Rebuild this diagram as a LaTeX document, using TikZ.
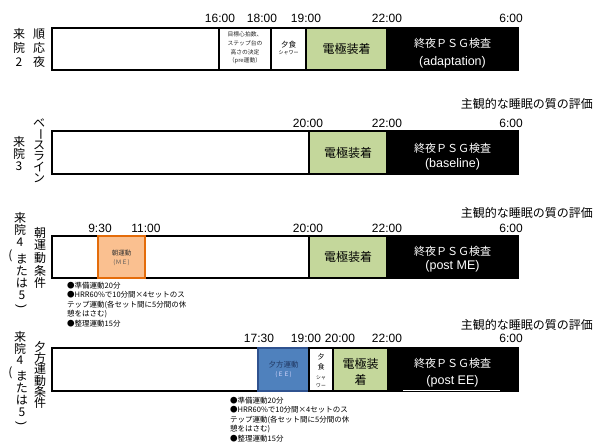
\documentclass[tikz,border=0pt]{standalone}
\usepackage{fontspec}
\setmainfont{Liberation Sans}
\newfontfamily\jp{Noto Sans CJK JP}
\definecolor{elec}{HTML}{C4D79B}
\definecolor{orfill}{HTML}{FAC090}
\definecolor{ordraw}{HTML}{E46C0A}
\definecolor{blfill}{HTML}{4F81BD}
\definecolor{bldraw}{HTML}{2F528F}
\begin{document}
\begin{tikzpicture}[x=1pt,y=-1pt,
  seg/.style={draw=black, line width=1.3pt, anchor=north west, inner sep=0pt, outer sep=0pt},
  tm/.style={font=\fontsize{12}{12}\selectfont, inner sep=0pt},
  vch/.style={font=\jp\fontsize{12}{12}\selectfont, inner sep=0pt},
  eval/.style={font=\jp\fontsize{12}{12}\selectfont, inner sep=0pt, anchor=east},
  psg/.style={font=\jp\fontsize{11}{11}\selectfont, text=white, inner sep=0pt},
  psgl/.style={font=\fontsize{12.5}{12.5}\selectfont, text=white, inner sep=0pt},
  el/.style={font=\jp\fontsize{12}{16}\selectfont, inner sep=0pt, align=center},
  note/.style={font=\jp\fontsize{7.5}{9.5}\selectfont, align=left, anchor=north west, inner sep=0pt},
  small/.style={inner sep=0pt, align=center}]
\useasboundingbox (0,0) rectangle (604,445);

% ---------------- Row 1 ----------------
\node[seg, minimum width=167pt, minimum height=42pt] (r1w) at (52,28) {};
\node[seg, minimum width=52pt, minimum height=42pt] (r1pre) at (219,28) {};
\node[seg, minimum width=35pt, minimum height=42pt] (r1meal) at (271,28) {};
\node[seg, fill=elec, minimum width=81pt, minimum height=42pt] (r1e) at (306,28) {};
\node[seg, fill=black, minimum width=131pt, minimum height=42pt] (r1p) at (387,28) {};
\node[small, font=\jp\fontsize{5.8}{8.6}\selectfont, text=black!85] (r1pret) at (245,48) {目標心拍数、\\ステップ台の\\高さの決定\\（pre運動）};
\node[small, font=\jp\fontsize{7.5}{7.5}\selectfont] (r1mealt) at (288.5,45) {夕食};
\node[small, font=\jp\fontsize{5}{5}\selectfont] (r1mealt2) at (288.5,53) {シャワー};
\node[el] (r1et) at (346.5,49) {電極装着};
\node[psg] (r1pt) at (452.5,43) {終夜ＰＳＧ検査};
\node[psgl] (r1pt2) at (452.5,62) {(adaptation)};
\node[tm] (t1a) at (220,18) {16:00};
\node[tm] (t1b) at (262,18) {18:00};
\node[tm] (t1c) at (306,18) {19:00};
\node[tm] (t1d) at (387,18) {22:00};
\node[tm] (t1e) at (511,18) {6:00};
\foreach \c/\yy [count=\i] in {来/34,院/48,2/62} \node[vch] (v1a\i) at (19,\yy) {\c};
\foreach \c/\yy [count=\i] in {順/34,応/48,夜/62} \node[vch] (v1b\i) at (39,\yy) {\c};

% ---------------- Row 2 ----------------
\node[eval] (ev2) at (593,104) {主観的な睡眠の質の評価};
\node[seg, minimum width=257pt, minimum height=43pt] (r2w) at (52,131) {};
\node[seg, fill=elec, minimum width=78pt, minimum height=43pt] (r2e) at (309,131) {};
\node[seg, fill=black, minimum width=131pt, minimum height=43pt] (r2p) at (387,131) {};
\node[el] (r2et) at (348,153) {電極装着};
\node[psg] (r2pt) at (452.5,148) {終夜ＰＳＧ検査};
\node[psgl] (r2pt2) at (452.5,164) {(baseline)};
\node[tm] (t2a) at (308,123) {20:00};
\node[tm] (t2b) at (387,123) {22:00};
\node[tm] (t2c) at (511,123) {6:00};
\foreach \c/\yy [count=\i] in {来/142,院/154,3/166} \node[vch] (v2a\i) at (19,\yy) {\c};
\foreach \c/\yy [count=\i] in {ベ/123,ス/145,ラ/156,イ/167,ン/178} \node[vch] (v2b\i) at (39,\yy) {\c};
\node[vch, rotate=-90] (v2bar) at (39,134) {ー};

% ---------------- Row 3 ----------------
\node[eval] (ev3) at (593,213) {主観的な睡眠の質の評価};
\node[seg, minimum width=257pt, minimum height=42pt] (r3w) at (52,236) {};
\node[seg, draw=ordraw, fill=orfill, minimum width=47pt, minimum height=42pt] (r3m) at (98,236) {};
\node[seg, fill=elec, minimum width=78pt, minimum height=42pt] (r3e) at (309,236) {};
\node[seg, fill=black, minimum width=131pt, minimum height=42pt] (r3p) at (387,236) {};
\node[small, font=\jp\fontsize{6.5}{6.5}\selectfont, text=black!80] (r3mt) at (121.5,253) {朝運動};
\node[small, font=\jp\fontsize{6}{6}\selectfont, text=black!65] (r3mt2) at (121.5,263) {(ＭＥ)};
\node[el] (r3et) at (348,257) {電極装着};
\node[psg] (r3pt) at (452.5,251) {終夜ＰＳＧ検査};
\node[psgl] (r3pt2) at (452.5,266) {(post ME)};
\node[tm] (t3a) at (100,228) {9:30};
\node[tm] (t3b) at (146,228) {11:00};
\node[tm] (t3c) at (308,228) {20:00};
\node[tm] (t3d) at (387,228) {22:00};
\node[tm] (t3e) at (511,228) {6:00};
\node[note] (n3) at (67,281.5) {●準備運動20分\\●HRR60\%で10分間×4セットのス\\テップ運動(各セット間に5分間の休\\憩をはさむ)\\●整理運動15分};
\foreach \c/\yy [count=\i] in {来/218,院/230,4/242} \node[vch] (v3a\i) at (20,\yy) {\c};
\foreach \c/\yy [count=\i] in {ま/259,た/271,は/283,5/295} \node[vch] (v3c\i) at (22,\yy) {\c};
\node[vch] (v3op) at (10.5,256) {(};
\node[vch, rotate=-90, font=\fontsize{12}{12}\selectfont] (v3cp) at (21,306) {)};
\foreach \c/\yy [count=\i] in {朝/233,運/245.5,動/258,条/270.5,件/283} \node[vch] (v3b\i) at (40,\yy) {\c};

% ---------------- Row 4 ----------------
\node[eval] (ev4) at (593,325) {主観的な睡眠の質の評価};
\node[seg, minimum width=206pt, minimum height=43pt] (r4w) at (52,348) {};
\node[seg, draw=bldraw, fill=blfill, minimum width=51pt, minimum height=43pt] (r4x) at (258,348) {};
\node[seg, minimum width=24pt, minimum height=43pt] (r4meal) at (309,348) {};
\node[seg, fill=elec, minimum width=55pt, minimum height=43pt] (r4e) at (333,348) {};
\node[seg, fill=black, minimum width=130pt, minimum height=43pt] (r4p) at (388,348) {};
\draw[white, line width=1.2pt] (r4p.south west) ++(15,-0.3) coordinate (w1) -- ++(97,0) coordinate (w2);
\node[small, font=\jp\fontsize{7.5}{7.5}\selectfont, text=bldraw!70!black] (r4xt) at (283.5,365) {夕方運動};
\node[small, font=\jp\fontsize{6}{6}\selectfont, text=blue!15] (r4xt2) at (283.5,375) {(ＥＥ)};
\node[small, font=\jp\fontsize{7}{10.5}\selectfont] (r4mealt) at (321,362) {夕\\食};
\node[small, font=\jp\fontsize{4.8}{8}\selectfont] (r4mealt2) at (321,381.5) {シャ\\ワー};
\node[el] (r4et) at (360.5,371.5) {電極装\\着};
\node[psg] (r4pt) at (452.5,363) {終夜ＰＳＧ検査};
\node[psgl] (r4pt2) at (452.5,381) {(post EE)};
\node[tm] (t4a) at (259,338) {17:30};
\node[tm] (t4b) at (306,338) {19:00};
\node[tm] (t4c) at (340,338) {20:00};
\node[tm] (t4d) at (387,338) {22:00};
\node[tm] (t4e) at (511,338) {6:00};
\node[note] (n4) at (230,396.5) {●準備運動20分\\●HRR60\%で10分間×4セットのス\\テップ運動(各セット間に5分間の休\\憩をはさむ)\\●整理運動15分};
\foreach \c/\yy [count=\i] in {来/337,院/348.5,4/360} \node[vch] (v4a\i) at (20,\yy) {\c};
\foreach \c/\yy [count=\i] in {ま/376,た/388,は/400,5/412} \node[vch] (v4c\i) at (22,\yy) {\c};
\node[vch] (v4op) at (10.5,373) {(};
\node[vch, rotate=-90, font=\fontsize{12}{12}\selectfont] (v4cp) at (21,423) {)};
\foreach \c/\yy [count=\i] in {夕/347,方/358,運/369.5,動/381,条/392,件/403} \node[vch] (v4b\i) at (40,\yy) {\c};
\end{tikzpicture}
\end{document}
